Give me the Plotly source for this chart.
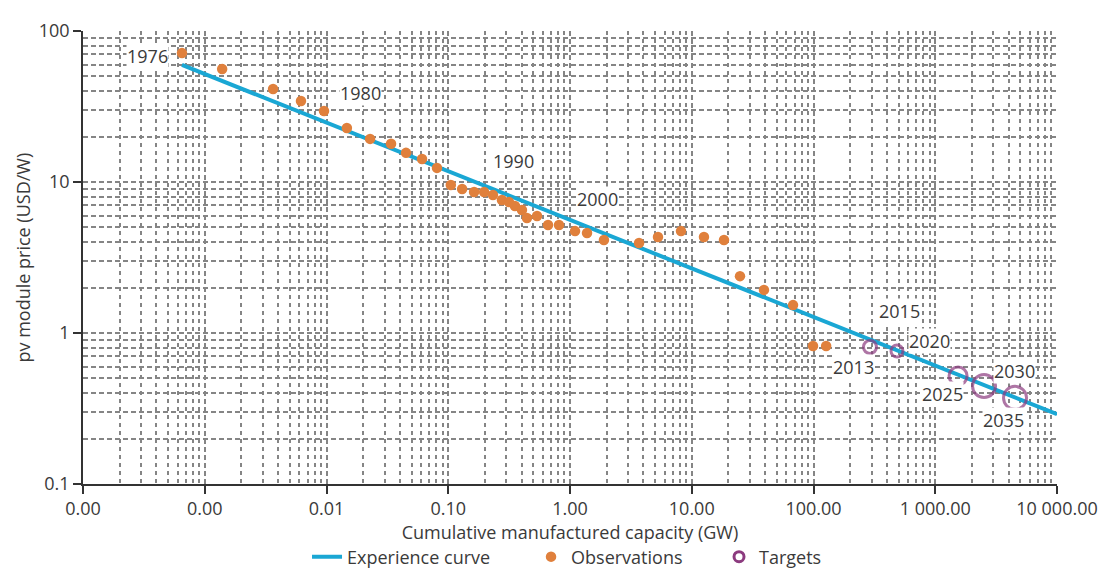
import math
import plotly.graph_objects as go

# ---------------- data ----------------
obs_years = list(range(1976, 2013))
obs_capacity_gw = [0.00065, 0.00139, 0.00364, 0.00617, 0.00954, 0.0147, 0.0228, 0.0339,
                   0.0450, 0.0609, 0.0808, 0.105, 0.130, 0.163, 0.197, 0.233, 0.276,
                   0.315, 0.353, 0.403, 0.443, 0.536, 0.660, 0.812, 1.10, 1.38, 1.90,
                   3.69, 5.28, 8.16, 12.6, 18.4, 24.9, 39.2, 67.9, 99.1, 127.0]
obs_price = [71.4, 56.0, 41.3, 34.4, 29.5, 22.8, 19.3, 17.9, 15.6, 14.2, 12.4, 9.55,
             8.99, 8.59, 8.59, 8.20, 7.60, 7.38, 6.94, 6.53, 5.78, 5.96, 5.19, 5.19,
             4.73, 4.59, 4.13, 3.94, 4.32, 4.73, 4.32, 4.13, 2.38, 1.93, 1.53, 0.82, 0.82]

target_years = [2013, 2020, 2025, 2030, 2035]
target_capacity_gw = [291, 485, 1540, 2515, 4520]
target_price = [0.808, 0.760, 0.519, 0.446, 0.372]

curve_capacity_gw = [0.00065, 10000]
curve_price = [59.6, 0.29]

x_tick_vals = [0.0001, 0.001, 0.01, 0.1, 1, 10, 100, 1000, 10000]
y_tick_vals = [0.1, 1, 10, 100]

# ---------------- styles ----------------
FONT = "Open Sans"
FS = 18
TXT = "#3a3a3a"
BLUE = "#1aa7d4"
ORANGE = "#e0803c"
PURPLE = "#8c3b7f"
GRID = "#858585"

fig = go.Figure()

fig.add_trace(go.Scatter(
    x=curve_capacity_gw, y=curve_price, mode="lines", name="Experience curve",
    line=dict(color=BLUE, width=4), legend="legend"))

fig.add_trace(go.Scatter(
    x=obs_capacity_gw, y=obs_price, mode="markers", name="Observations",
    text=obs_years, marker=dict(color=ORANGE, size=10.5, line=dict(width=0)),
    legend="legend2"))

fig.add_trace(go.Scatter(
    x=target_capacity_gw, y=target_price, mode="markers", name="Targets",
    text=target_years, showlegend=False,
    marker=dict(symbol="circle-open", color=PURPLE, size=[13, 12, 18, 23, 23],
                line=dict(width=3, color=PURPLE))))

fig.add_trace(go.Scatter(
    x=[None], y=[None], mode="markers", name="Targets",
    marker=dict(symbol="circle-open", color=PURPLE, size=10,
                line=dict(width=3, color=PURPLE)), legend="legend3"))

# year labels anchored to data points (series, index, pixel shift)
label_specs = [
    ("1976", "obs", 0, -34, -3),
    ("1980", "obs", 4, 36, 18),
    ("1990", "obs", 14, 29, 31),
    ("2000", "obs", 24, 22, 32),
    ("2013", "tgt", 0, -16, -20),
    ("2015", "tgt", 1, 3, 40),
    ("2020", "tgt", 1, 33, 10),
    ("2025", "tgt", 2, -16, -18),
    ("2030", "tgt", 3, 30, 15),
    ("2035", "tgt", 4, -12, -22),
]
for text, series, idx, dx, dy in label_specs:
    if series == "obs":
        xv, yv = obs_capacity_gw[idx], obs_price[idx]
    else:
        xv, yv = target_capacity_gw[idx], target_price[idx]
    fig.add_annotation(x=math.log10(xv), y=math.log10(yv), text=text, showarrow=False,
                       xshift=dx, yshift=dy, bgcolor="white", borderpad=0,
                       font=dict(family=FONT, size=FS, color=TXT))

# y-axis title
fig.add_annotation(x=-0.0626, y=0.5, xref="paper", yref="paper", text="pv module price (USD/W)",
                   textangle=-90, showarrow=False, xanchor="center", yanchor="middle",
                   font=dict(family=FONT, size=FS, color=TXT))

grid_common = dict(showgrid=True, gridcolor=GRID, gridwidth=1.5, griddash="5px,3px")

fig.update_xaxes(
    type="log", range=[-4, 4], tickvals=x_tick_vals, tickformat=",.2f",
    ticks="outside", ticklen=8, tickwidth=1.5, tickcolor="#333",
    showline=True, linecolor="#333", linewidth=1.5, zeroline=False,
    minor=dict(dtick="D1", showgrid=True, gridcolor=GRID, gridwidth=1.5,
               griddash="4px,4px", ticks=""),
    tickfont=dict(family=FONT, size=FS, color=TXT),
    title=dict(text="Cumulative manufactured capacity (GW)",
               font=dict(family=FONT, size=FS, color=TXT), standoff=3),
    **grid_common)

fig.update_yaxes(
    type="log", range=[-1, 2], tickvals=y_tick_vals,
    ticks="outside", ticklen=8, tickwidth=1.5, tickcolor="#333",
    showline=True, linecolor="#333", linewidth=1.5, zeroline=False,
    minor=dict(dtick="D1", showgrid=True, gridcolor=GRID, gridwidth=1.5,
               griddash="5px,3px", ticks=""),
    tickfont=dict(family=FONT, size=FS, color=TXT),
    **grid_common)

leg_common = dict(orientation="h", yanchor="middle", y=-0.161, xanchor="left",
                  bgcolor="rgba(0,0,0,0)", font=dict(family=FONT, size=FS, color=TXT))

fig.update_layout(
    width=1102, height=569,
    margin=dict(l=83, r=45, t=31, b=85, autoexpand=False),
    paper_bgcolor="white", plot_bgcolor="white",
    separators=". ",
    font=dict(family=FONT, size=FS, color=TXT),
    legend=dict(x=0.230, **leg_common),
    legend2=dict(x=0.460, **leg_common),
    legend3=dict(x=0.653, **leg_common),
)

fig.write_html("out.html", config={"displayModeBar": False},
               post_script="document.body.style.margin='0px';document.body.style.overflow='hidden';")
